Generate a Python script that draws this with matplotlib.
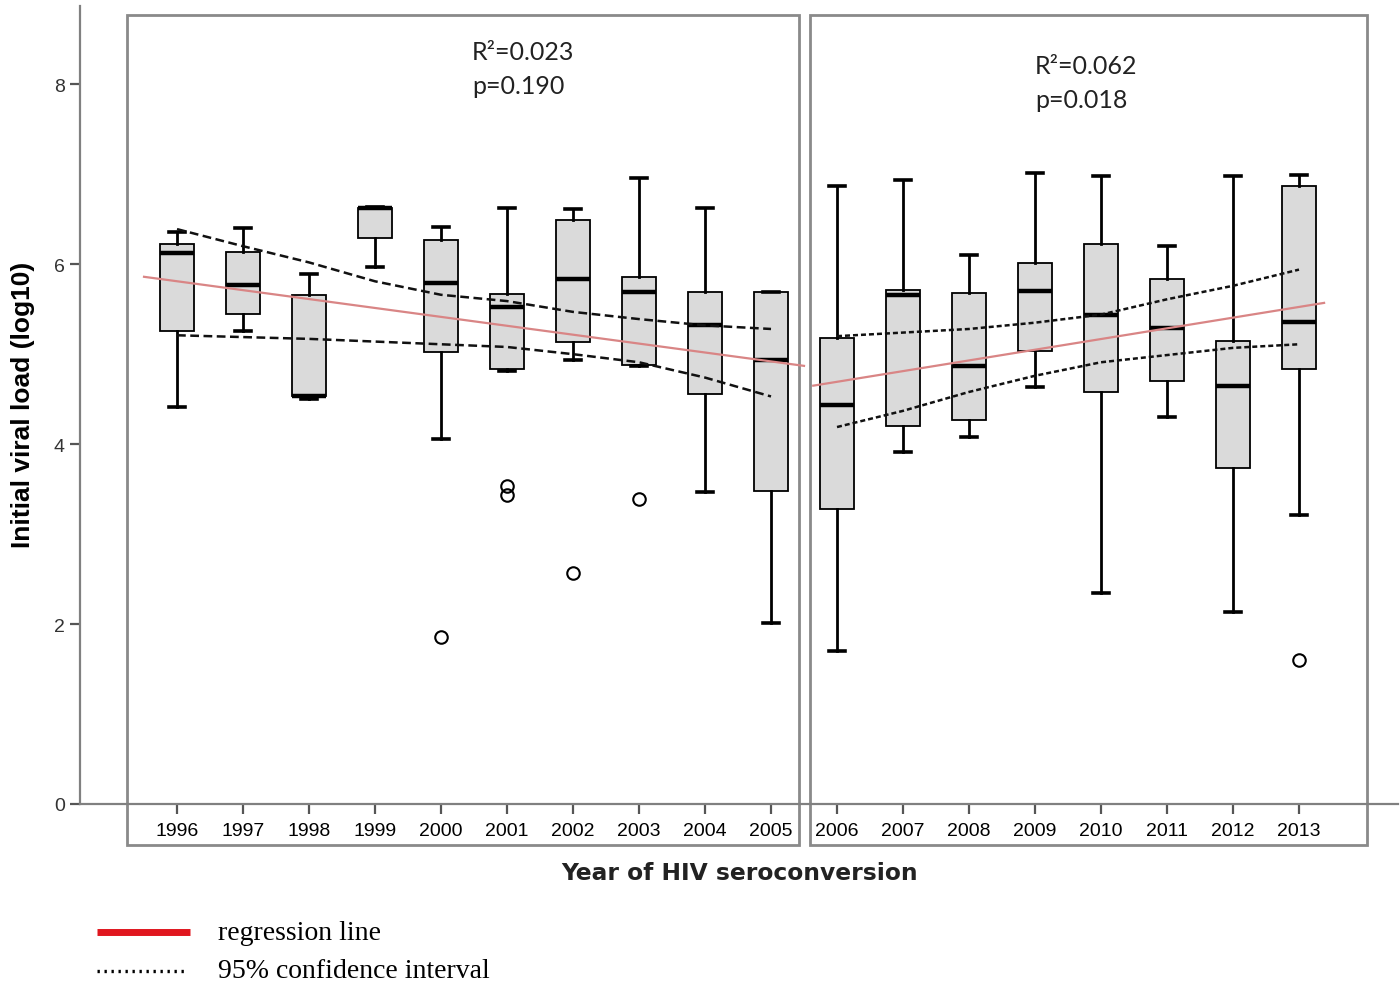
import matplotlib
matplotlib.use("Agg")
import matplotlib.pyplot as plt
from matplotlib.patches import Rectangle
from matplotlib.lines import Line2D

# ---------------- data ----------------
years = list(range(1996, 2014))
whislo = [4.41, 5.26, 4.50, 5.97, 4.06, 4.81, 4.94, 4.87, 3.47, 2.01,
          1.70, 3.91, 4.08, 4.64, 2.34, 4.30, 2.13, 3.21]
q1 = [5.26, 5.45, 4.53, 6.29, 5.02, 4.84, 5.14, 4.88, 4.56, 3.48,
      3.28, 4.20, 4.27, 5.03, 4.58, 4.70, 3.74, 4.83]
med = [6.12, 5.77, 4.53, 6.62, 5.79, 5.52, 5.83, 5.69, 5.32, 4.94,
       4.44, 5.66, 4.87, 5.70, 5.44, 5.29, 4.65, 5.36]
q3 = [6.23, 6.14, 5.66, 6.62, 6.27, 5.67, 6.49, 5.86, 5.69, 5.69,
      5.18, 5.71, 5.68, 6.01, 6.23, 5.84, 5.15, 6.87]
whishi = [6.36, 6.40, 5.89, 6.64, 6.41, 6.63, 6.61, 6.96, 6.63, 5.69,
          6.87, 6.94, 6.10, 7.01, 6.98, 6.20, 6.98, 6.99]
outliers = {2000: [1.86], 2001: [3.53, 3.43], 2002: [2.57], 2003: [3.39], 2013: [1.60]}

# regression lines (period 1: 1996-2005, period 2: 2006-2013)
reg1_x = [1995.5, 2005.5]
reg1_y = [5.86, 4.87]
reg2_x = [2005.64, 2013.38]
reg2_y = [4.65, 5.57]

# 95% confidence interval bands
ci1_years = list(range(1996, 2006))
ci1_upper = [6.39, 6.20, 6.02, 5.81, 5.66, 5.59, 5.47, 5.39, 5.32, 5.28]
ci1_lower = [5.21, 5.19, 5.17, 5.14, 5.11, 5.08, 5.00, 4.91, 4.74, 4.53]
ci2_years = list(range(2006, 2014))
ci2_upper = [5.20, 5.24, 5.28, 5.35, 5.44, 5.61, 5.76, 5.94]
ci2_lower = [4.19, 4.37, 4.58, 4.76, 4.91, 4.99, 5.07, 5.11]

annot1 = ["R\u00b2=0.023", "p=0.190"]
annot2 = ["R\u00b2=0.062", "p=0.018"]

# ---------------- figure ----------------
W, H = 1400, 987
fig = plt.figure(figsize=(W / 100, H / 100), dpi=100)
ax = fig.add_axes([80 / W, 1 - 805 / H, (1398 - 80) / W, (805 - 7) / H])
ax.set_xlim(1994.53, 2014.5)
ax.set_ylim(0, 8.87)

stats = []
for i, y in enumerate(years):
    stats.append(dict(med=med[i], q1=q1[i], q3=q3[i], whislo=whislo[i],
                      whishi=whishi[i], fliers=outliers.get(y, [])))

ax.bxp(stats, positions=years, widths=0.52, capwidths=0.25, patch_artist=True,
       manage_ticks=False,
       boxprops=dict(facecolor='#dadada', edgecolor='black', linewidth=1.3),
       medianprops=dict(color='black', linewidth=3.2),
       whiskerprops=dict(color='black', linewidth=2.0),
       capprops=dict(color='black', linewidth=2.6),
       flierprops=dict(marker='o', markerfacecolor='none', markeredgecolor='black',
                       markersize=9, markeredgewidth=1.5))

# regression + CI
ax.plot(reg1_x, reg1_y, color='#d98585', lw=1.6, zorder=5)
ax.plot(reg2_x, reg2_y, color='#d98585', lw=1.6, zorder=5)
ax.plot(ci1_years, ci1_upper, color='#111111', lw=1.8, dashes=(3.5, 1.8), zorder=6)
ax.plot(ci1_years, ci1_lower, color='#111111', lw=1.8, dashes=(3.5, 1.8), zorder=6)
ax.plot(ci2_years, ci2_upper, color='#111111', lw=1.8, dashes=(2.0, 1.2), zorder=6)
ax.plot(ci2_years, ci2_lower, color='#111111', lw=1.8, dashes=(2.0, 1.2), zorder=6)

# panel frames
for x0, x1 in [(1995.24, 2005.42), (2005.59, 2014.03)]:
    ax.add_patch(Rectangle((x0, -0.46), x1 - x0, 8.77 + 0.46, fill=False,
                           edgecolor='#8a8a8a', lw=2.0, clip_on=False, zorder=1))

# annotations
for (txt, px, py) in [(annot1[0], 472, 52), (annot1[1], 472, 87),
                      (annot2[0], 1035, 67), (annot2[1], 1035, 101)]:
    fig.text(px / W, 1 - py / H, txt, family='Lato', fontsize=18, color='#222222',
             va='center', ha='left')

# axes styling
for s in ['top', 'right']:
    ax.spines[s].set_visible(False)
for s in ['left', 'bottom']:
    ax.spines[s].set_color('#808080')
    ax.spines[s].set_linewidth(1.6)
ax.set_xticks(years)
ax.set_xticklabels([str(y) for y in years], family='Liberation Sans', fontsize=14)
ax.set_yticks([0, 2, 4, 6, 8])
ax.set_yticklabels(['0', '2', '4', '6', '8'], family='Liberation Sans', fontsize=14,
                   color='#333333')
ax.tick_params(axis='x', direction='out', length=7, width=1.6, color='#555555', pad=6)
ax.tick_params(axis='y', direction='out', length=7, width=1.6, color='#555555', pad=4)
ax.set_facecolor('none')

fig.text(23 / W, 1 - 405 / H, "Initial viral load (log10)", rotation=90,
         ha='center', va='center', family='Liberation Sans', fontweight='bold',
         fontsize=19)
fig.text(740 / W, 1 - 873 / H, "Year of HIV seroconversion", ha='center', va='center',
         family='DejaVu Sans', fontweight='bold', fontsize=16.8, color='#222222')

# legend
fig.add_artist(Line2D([97 / W, 190 / W], [1 - 933 / H, 1 - 933 / H], color='#e0161e', lw=5,
                      solid_capstyle='butt'))
fig.add_artist(Line2D([97 / W, 188 / W], [1 - 972 / H, 1 - 972 / H], color='black', lw=2.4,
                      linestyle=(0, (0.7, 1.4))))
fig.text(218 / W, 1 - 933 / H, "regression line", family='Liberation Serif', fontsize=20,
         va='center', ha='left')
fig.text(218 / W, 1 - 972 / H, "95% confidence interval", family='Liberation Serif',
         fontsize=20, va='center', ha='left')

fig.savefig("out.png", dpi=100)
